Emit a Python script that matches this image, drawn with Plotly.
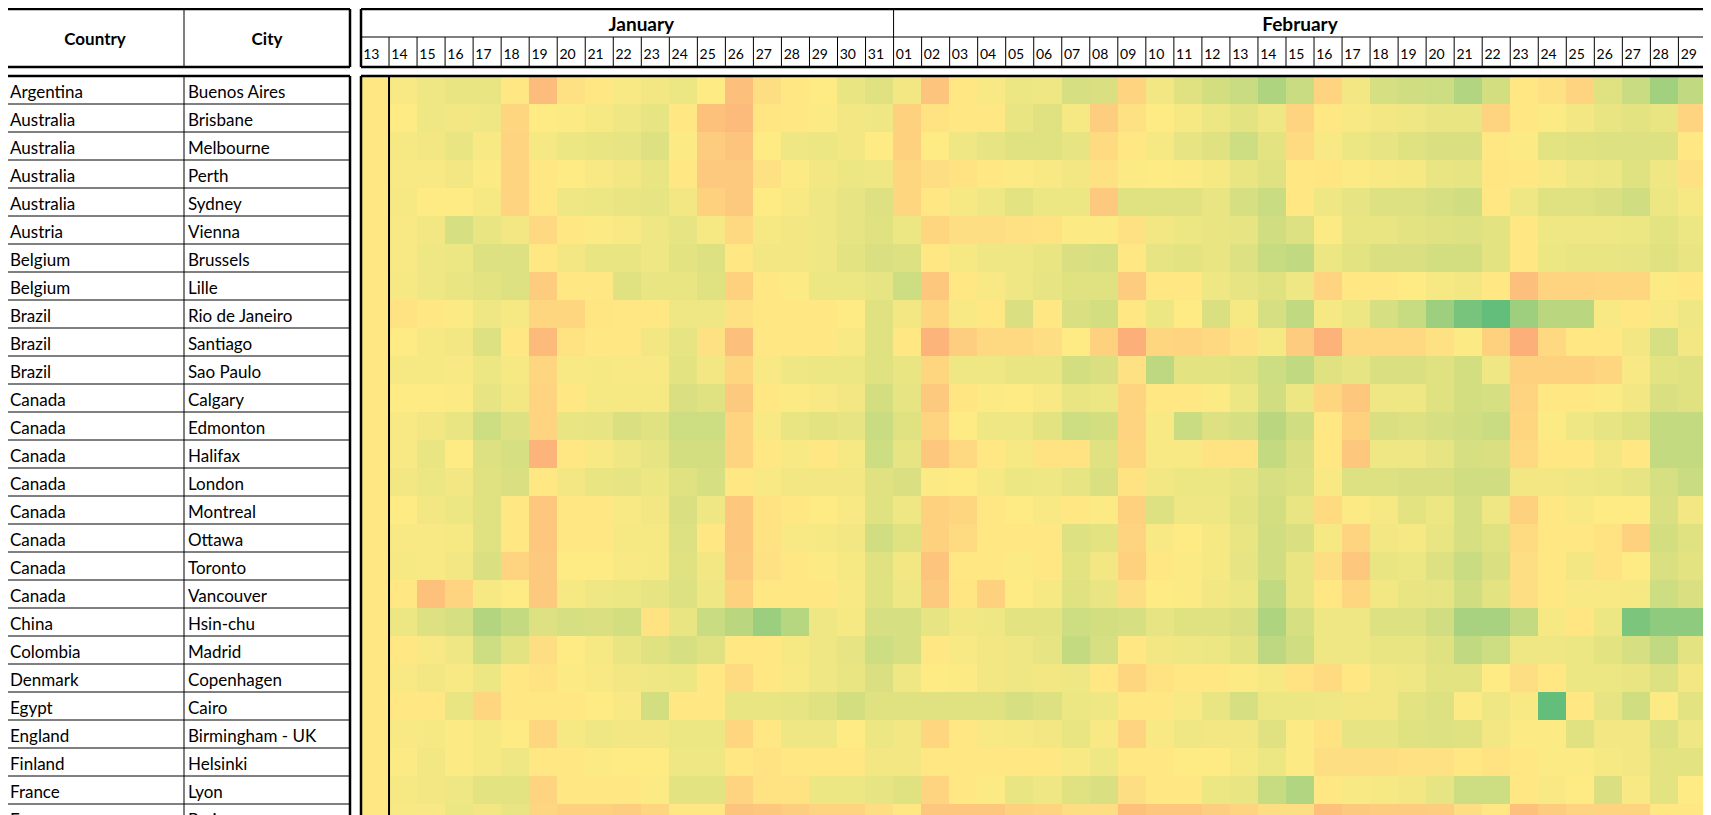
import plotly.graph_objects as go

# ---------------- data ----------------
countries = ["Argentina", "Australia", "Australia", "Australia", "Australia", "Austria",
             "Belgium", "Belgium", "Brazil", "Brazil", "Brazil", "Canada", "Canada", "Canada",
             "Canada", "Canada", "Canada", "Canada", "Canada", "China", "Colombia", "Denmark",
             "Egypt", "England", "Finland", "France", "France"]
cities = ["Buenos Aires", "Brisbane", "Melbourne", "Perth", "Sydney", "Vienna", "Brussels",
          "Lille", "Rio de Janeiro", "Santiago", "Sao Paulo", "Calgary", "Edmonton", "Halifax",
          "London", "Montreal", "Ottawa", "Toronto", "Vancouver", "Hsin-chu", "Madrid",
          "Copenhagen", "Cairo", "Birmingham - UK", "Helsinki", "Lyon", "Paris"]

jan_days = ["13", "14", "15", "16", "17", "18", "19", "20", "21", "22", "23", "24", "25",
            "26", "27", "28", "29", "30", "31"]
feb_days = ["01", "02", "03", "04", "05", "06", "07", "08", "09", "10", "11", "12", "13",
            "14", "15", "16", "17", "18", "19", "20", "21", "22", "23", "24", "25", "26",
            "27", "28", "29"]
mar_days = ["01"]
month_names = ["January", "February"]

# values per city (Jan 13..31)
values_jan = [
    [49, 52, 55, 57, 57, 49, 32, 46, 49, 52, 54, 56, 50, 33, 45, 49, 50, 57, 60],
    [49, 50, 55, 54, 55, 42, 50, 51, 53, 55, 58, 49, 34, 31, 48, 49, 51, 54, 55],
    [49, 53, 54, 57, 52, 41, 53, 56, 57, 58, 61, 51, 38, 35, 50, 55, 56, 54, 50],
    [49, 52, 52, 54, 51, 41, 49, 50, 52, 54, 57, 49, 37, 37, 46, 51, 54, 56, 55],
    [49, 53, 50, 50, 53, 41, 49, 55, 56, 57, 58, 54, 40, 37, 50, 52, 55, 58, 61],
    [49, 52, 54, 63, 57, 54, 43, 49, 51, 52, 55, 58, 53, 43, 53, 54, 55, 58, 60],
    [49, 52, 55, 56, 61, 61, 49, 54, 57, 57, 55, 59, 61, 49, 54, 54, 55, 59, 62],
    [49, 53, 55, 57, 59, 61, 38, 49, 49, 60, 57, 57, 60, 40, 49, 51, 56, 56, 58],
    [49, 47, 49, 51, 55, 53, 42, 42, 48, 49, 49, 55, 55, 46, 49, 49, 49, 50, 60],
    [49, 50, 53, 54, 61, 49, 31, 47, 49, 49, 54, 58, 46, 33, 49, 49, 49, 52, 60],
    [49, 53, 53, 52, 56, 53, 42, 52, 53, 52, 52, 59, 54, 42, 52, 55, 56, 56, 60],
    [49, 50, 50, 51, 58, 54, 41, 49, 53, 53, 53, 62, 60, 37, 49, 51, 52, 54, 64],
    [49, 52, 54, 57, 66, 61, 41, 57, 58, 62, 60, 66, 66, 41, 52, 57, 59, 58, 67],
    [49, 52, 57, 50, 61, 63, 29, 49, 52, 55, 58, 64, 64, 41, 49, 52, 49, 53, 66],
    [49, 54, 56, 54, 60, 62, 49, 54, 57, 58, 56, 60, 63, 49, 52, 54, 54, 54, 60],
    [49, 50, 54, 56, 60, 49, 36, 49, 49, 52, 54, 62, 55, 36, 47, 49, 50, 52, 60],
    [49, 52, 52, 53, 60, 49, 36, 49, 49, 53, 53, 61, 49, 36, 47, 52, 53, 54, 65],
    [49, 53, 52, 54, 62, 41, 37, 50, 50, 52, 53, 60, 54, 37, 46, 49, 51, 53, 60],
    [49, 49, 34, 41, 53, 50, 37, 53, 55, 56, 58, 61, 55, 40, 49, 49, 49, 52, 60],
    [49, 56, 61, 63, 74, 69, 61, 63, 62, 64, 47, 57, 67, 72, 82, 73, 55, 53, 63],
    [49, 49, 52, 55, 66, 59, 45, 50, 53, 57, 60, 63, 60, 49, 49, 53, 55, 58, 66],
    [49, 52, 54, 52, 56, 49, 47, 51, 52, 54, 55, 56, 49, 44, 49, 52, 55, 57, 62],
    [49, 49, 49, 57, 42, 49, 49, 49, 50, 52, 64, 49, 49, 57, 57, 58, 60, 64, 60],
    [49, 52, 53, 51, 53, 50, 42, 53, 55, 54, 54, 56, 56, 42, 49, 55, 55, 50, 56],
    [49, 51, 54, 51, 53, 55, 49, 49, 51, 50, 50, 55, 55, 49, 47, 49, 49, 49, 54],
    [49, 53, 54, 55, 59, 59, 41, 49, 49, 49, 51, 59, 59, 41, 47, 47, 56, 56, 58],
    [49, 52, 52, 56, 54, 57, 42, 40, 40, 39, 42, 49, 49, 35, 36, 39, 41, 41, 45],
]

# values per city (Feb 01..29)
values_feb = [
    [54, 35, 49, 52, 56, 55, 63, 62, 41, 54, 60, 64, 67, 76, 67, 41, 54, 63, 65, 66, 75, 64, 49, 46, 41, 60, 67, 80, 70],
    [40, 47, 49, 49, 57, 60, 53, 39, 46, 50, 53, 56, 59, 55, 41, 49, 52, 54, 55, 57, 57, 41, 49, 51, 54, 57, 59, 57, 41],
    [40, 50, 55, 58, 60, 60, 58, 44, 49, 53, 58, 60, 66, 59, 44, 52, 56, 58, 60, 62, 62, 49, 51, 59, 60, 61, 61, 61, 49],
    [42, 45, 47, 49, 51, 52, 54, 46, 51, 50, 51, 53, 57, 60, 49, 48, 51, 52, 53, 57, 58, 48, 49, 52, 55, 56, 60, 55, 46],
    [42, 49, 53, 55, 59, 56, 56, 37, 60, 60, 60, 57, 63, 67, 49, 55, 58, 61, 61, 63, 65, 49, 55, 60, 60, 62, 65, 56, 53],
    [56, 42, 45, 45, 46, 47, 51, 51, 46, 54, 56, 57, 58, 65, 61, 51, 57, 57, 59, 60, 61, 59, 49, 55, 55, 55, 56, 59, 56],
    [61, 49, 53, 55, 55, 57, 62, 63, 49, 58, 59, 57, 61, 68, 70, 56, 59, 62, 62, 64, 64, 59, 49, 56, 57, 57, 58, 60, 57],
    [66, 36, 49, 52, 55, 58, 60, 60, 38, 49, 49, 55, 58, 60, 55, 41, 49, 49, 50, 53, 54, 49, 33, 41, 41, 42, 42, 51, 49],
    [54, 42, 52, 49, 62, 49, 62, 64, 49, 56, 50, 62, 53, 63, 70, 53, 56, 63, 68, 81, 93, 100, 81, 72, 72, 52, 49, 52, 55],
    [49, 29, 39, 43, 43, 45, 50, 40, 27, 42, 41, 43, 46, 53, 38, 28, 43, 43, 43, 46, 51, 40, 27, 43, 49, 49, 54, 63, 54],
    [57, 42, 55, 55, 57, 57, 64, 62, 46, 71, 59, 59, 60, 66, 70, 60, 58, 62, 62, 60, 64, 55, 40, 40, 40, 42, 52, 59, 60],
    [58, 37, 48, 51, 50, 52, 57, 56, 41, 49, 49, 51, 56, 65, 56, 42, 36, 55, 55, 60, 64, 63, 41, 49, 49, 51, 54, 62, 60],
    [60, 41, 50, 55, 55, 59, 66, 64, 41, 52, 67, 61, 63, 72, 65, 49, 40, 62, 61, 63, 65, 67, 42, 51, 55, 58, 60, 69, 69],
    [58, 36, 43, 49, 53, 47, 47, 60, 42, 52, 52, 47, 47, 69, 62, 49, 36, 55, 55, 58, 63, 62, 43, 49, 49, 54, 49, 69, 69],
    [62, 51, 50, 53, 56, 55, 58, 62, 47, 54, 56, 56, 58, 63, 61, 52, 61, 61, 62, 62, 65, 65, 54, 54, 55, 56, 58, 63, 67],
    [55, 40, 42, 49, 50, 52, 49, 51, 40, 61, 55, 55, 59, 64, 57, 44, 51, 53, 59, 56, 63, 55, 40, 49, 52, 50, 50, 62, 54],
    [60, 40, 44, 49, 49, 49, 61, 59, 41, 52, 50, 53, 57, 65, 62, 53, 41, 54, 53, 57, 63, 60, 44, 49, 49, 47, 40, 64, 60],
    [54, 35, 49, 49, 51, 49, 59, 54, 40, 49, 51, 53, 58, 65, 57, 45, 36, 57, 56, 61, 67, 62, 45, 49, 54, 47, 50, 62, 59],
    [55, 37, 48, 40, 50, 53, 60, 57, 45, 50, 51, 54, 56, 70, 57, 49, 42, 54, 57, 58, 65, 59, 45, 49, 52, 52, 53, 66, 62],
    [63, 58, 54, 55, 59, 59, 66, 64, 63, 58, 60, 60, 62, 76, 63, 55, 55, 61, 61, 65, 78, 78, 69, 53, 48, 56, 92, 86, 86],
    [63, 49, 52, 54, 55, 58, 69, 63, 49, 54, 55, 56, 59, 71, 65, 55, 55, 57, 57, 60, 70, 66, 55, 55, 56, 59, 63, 70, 59],
    [55, 50, 51, 54, 55, 54, 55, 49, 42, 47, 49, 49, 51, 53, 47, 44, 49, 54, 55, 59, 59, 50, 45, 49, 56, 56, 57, 61, 54],
    [60, 60, 60, 60, 63, 61, 56, 55, 49, 49, 52, 57, 63, 56, 56, 55, 54, 54, 59, 61, 51, 55, 52, 100, 49, 58, 65, 51, 59],
    [54, 42, 49, 52, 53, 54, 57, 52, 41, 52, 55, 54, 54, 60, 51, 47, 58, 58, 60, 61, 60, 54, 51, 51, 60, 54, 54, 61, 55],
    [54, 49, 49, 49, 49, 49, 52, 55, 49, 49, 50, 50, 53, 56, 51, 45, 45, 45, 46, 46, 49, 47, 49, 51, 51, 53, 54, 59, 59],
    [60, 41, 49, 51, 57, 55, 60, 62, 45, 49, 49, 56, 57, 68, 75, 49, 52, 53, 54, 58, 66, 66, 49, 52, 50, 62, 52, 59, 50],
    [49, 36, 36, 36, 40, 41, 45, 45, 34, 36, 36, 39, 41, 45, 45, 34, 37, 38, 38, 39, 45, 49, 34, 38, 41, 41, 41, 49, 49],
]

# values per city (Mar 01)
values_mar = [42, 48, 50, 40, 52, 50, 55, 36, 35, 31, 38, 45, 48, 45, 55, 40, 44, 40, 42, 69,
              50, 50, 52, 40, 50, 40, 34]

# ---------------- build ----------------
PW, PH = 1711, 815          # browser page size
O = 8                        # page body margin: figure starts at (8, 8)
WF, HF = PW - O, PH - O      # figure size so that it ends at the window edge

day_labels = jan_days + feb_days + mar_days
z = [values_jan[i] + values_feb[i] + [values_mar[i]] for i in range(len(cities))]
col_idx = list(range(len(day_labels)))
row_idx = list(range(len(cities)))

CW = 28.03   # px per day column
RH = 28.0    # px per row
HX0 = 361    # page x of heatmap left edge
DY0 = 76     # page y of first data row
TX1 = 356    # page x where table subplot ends
HDR = 72     # page y where header subplot ends

FONT = "Lato"
BLACK = "#000000"

fig = go.Figure()

fig.add_trace(go.Heatmap(
    x=col_idx, y=row_idx, z=z,
    colorscale=[[0, "#F8696B"], [0.5, "#FFEB84"], [1, "#63BE7B"]],
    zmin=0, zmax=100, showscale=False, hoverinfo="skip",
    xaxis="x", yaxis="y",
))

# table body text
ty = [r + 0.12 for r in row_idx]
fig.add_trace(go.Scatter(
    x=[10] * len(countries), y=ty, text=countries, mode="text",
    textposition="middle right", textfont=dict(family=FONT, size=17, color=BLACK),
    hoverinfo="skip", xaxis="x2", yaxis="y", showlegend=False,
))
fig.add_trace(go.Scatter(
    x=[188] * len(cities), y=ty, text=cities, mode="text",
    textposition="middle right", textfont=dict(family=FONT, size=17, color=BLACK),
    hoverinfo="skip", xaxis="x2", yaxis="y", showlegend=False,
))

# table header text
fig.add_trace(go.Scatter(
    x=[95, 267], y=[41, 41], text=["Country", "City"], mode="text",
    textposition="middle center",
    textfont=dict(family=FONT, size=17, color=BLACK, weight="bold"),
    hoverinfo="skip", xaxis="x2", yaxis="y2", showlegend=False,
))

# day labels
fig.add_trace(go.Scatter(
    x=[i - 0.42 for i in col_idx], y=[55] * len(col_idx), text=day_labels, mode="text",
    textposition="middle right", textfont=dict(family=FONT, size=14, color=BLACK),
    hoverinfo="skip", xaxis="x", yaxis="y2", showlegend=False, cliponaxis=True,
))

# month labels (January spans 14..31, February 01..29)
jan_center = (1 + len(jan_days) - 1) / 2
feb_center = len(jan_days) + (len(feb_days) - 1) / 2
fig.add_trace(go.Scatter(
    x=[jan_center, feb_center], y=[26, 26], text=month_names, mode="text",
    textposition="middle center",
    textfont=dict(family=FONT, size=19, color=BLACK, weight="bold"),
    hoverinfo="skip", xaxis="x", yaxis="y2", showlegend=False,
))

# ---------------- shapes ----------------
shapes = []


def pline(x0, y0, x1, y1, w):
    """line in page pixel coordinates"""
    shapes.append(dict(type="line", xref="paper", yref="paper",
                       x0=(x0 - O) / WF, x1=(x1 - O) / WF,
                       y0=1 - (y0 - O) / HF, y1=1 - (y1 - O) / HF,
                       line=dict(color=BLACK, width=w)))


# table header box
pline(6, 9, 350, 9, 2.5)
pline(6, 67, 350, 67, 2.5)
pline(6, 9, 6, 67, 2.5)
pline(350, 9, 350, 67, 2.5)
pline(184, 9, 184, 67, 1)
# day header box
pline(HX0, 9, PW + 5, 9, 2.5)
pline(HX0, 67, PW + 5, 67, 2.5)
pline(HX0, 9, HX0, 67, 2.5)
pline(HX0, 37, PW + 5, 37, 1)
# table body box
pline(6, DY0, 350, DY0, 2.5)
pline(6, DY0, 6, PH + 5, 2.5)
pline(350, DY0, 350, PH + 5, 2.5)
pline(184, DY0, 184, PH + 5, 1)
# heatmap box
pline(HX0, DY0, PW + 5, DY0, 2.5)
pline(HX0, DY0, HX0, PH + 5, 2.5)

# day column separators in header (data coords)
for i in col_idx[1:]:
    shapes.append(dict(type="line", xref="x", yref="y2", x0=i - 0.5, x1=i - 0.5,
                       y0=37, y1=67, line=dict(color=BLACK, width=1)))
# month separators
for b in [len(jan_days) - 0.5, len(jan_days) + len(feb_days) - 0.5]:
    shapes.append(dict(type="line", xref="x", yref="y2", x0=b, x1=b,
                       y0=9, y1=37, line=dict(color=BLACK, width=1)))
# thick line after first day column
shapes.append(dict(type="line", xref="x", yref="y", x0=0.5, x1=0.5,
                   y0=-0.5, y1=len(cities) - 0.5, line=dict(color=BLACK, width=2)))
# table row lines
for r in row_idx:
    shapes.append(dict(type="line", xref="x2", yref="y", x0=6, x1=350,
                       y0=r + 0.5, y1=r + 0.5, line=dict(color=BLACK, width=1)))

ax_common = dict(showgrid=False, zeroline=False, showline=False, showticklabels=False,
                 ticks="", fixedrange=True)

fig.update_layout(
    width=WF, height=HF, margin=dict(l=0, r=0, t=0, b=0, pad=0),
    paper_bgcolor="white", plot_bgcolor="white", showlegend=False,
    shapes=shapes,
    xaxis=dict(domain=[(HX0 - O) / WF, 1], range=[-0.5, -0.5 + (PW - HX0) / CW],
               anchor="y", **ax_common),
    yaxis=dict(domain=[0, (PH - DY0) / HF], range=[-0.5 + (PH - DY0) / RH, -0.5],
               anchor="x", **ax_common),
    xaxis2=dict(domain=[0, (TX1 - O) / WF], range=[O, TX1], anchor="y", **ax_common),
    yaxis2=dict(domain=[1 - (HDR - O) / HF, 1], range=[HDR, O], anchor="x", **ax_common),
)

fig.write_html("out.html", config=dict(displayModeBar=False))
